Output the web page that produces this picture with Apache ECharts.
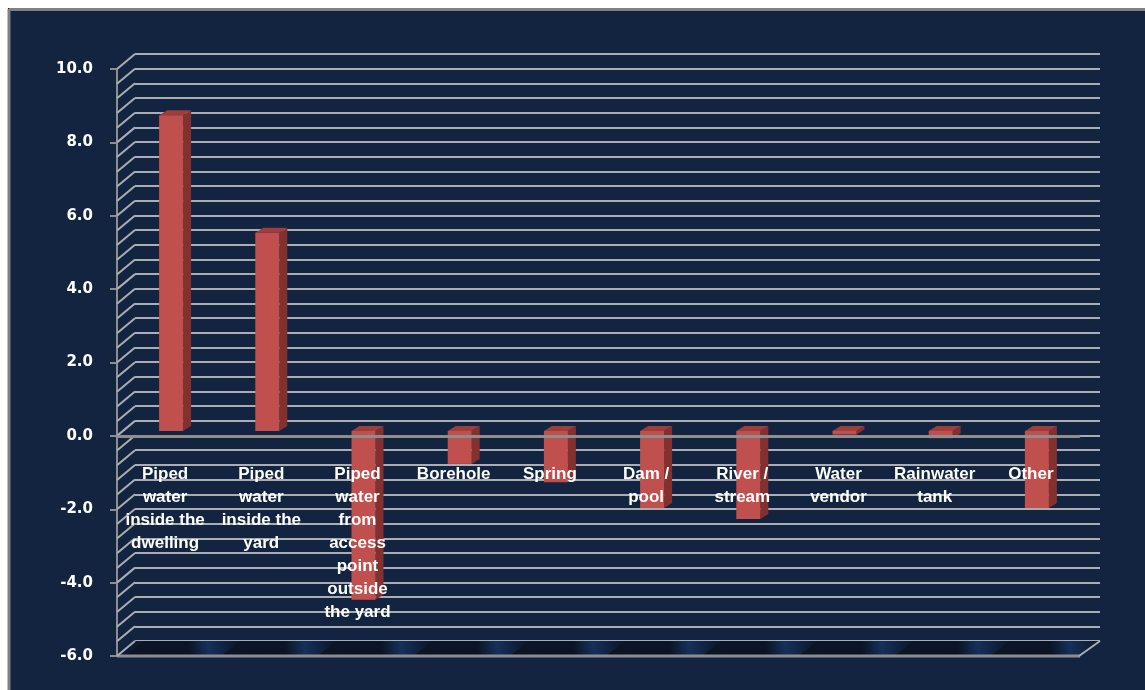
<!DOCTYPE html>
<html><head><meta charset="utf-8">
<script src="https://cdn.jsdelivr.net/npm/echarts@6/dist/echarts.min.js"></script>
<style>html,body{margin:0;padding:0;background:#fff}#c{width:1145px;height:690px}</style>
</head><body><div id="c"></div>
<script>
// ---- data ----
const categories = [
  'Piped\nwater\ninside the\ndwelling',
  'Piped\nwater\ninside the\nyard',
  'Piped\nwater\nfrom\naccess\npoint\noutside\nthe yard',
  'Borehole',
  'Spring',
  'Dam /\npool',
  'River /\nstream',
  'Water\nvendor',
  'Rainwater\ntank',
  'Other'
];
const values = [8.6, 5.4, -4.6, -0.9, -1.4, -2.1, -2.4, -0.1, -0.2, -2.1];
const yMin = -6;
const yMax = 10;
const yLabelStep = 2;
const gridStep = 0.4;

// ---- styles ----
const BG = '#12243f';
const GRID = '#aaaeb4';
const AXIS = '#8e8e8e';
const FRONT = '#c0504d';
const SIDE = '#83312f';
const TOP = '#9f3d3b';

const gridTicks = [];
for (let k = 0; k <= Math.round((yMax - yMin) / gridStep); k++) {
  gridTicks.push(+(yMin + k * gridStep).toFixed(2));
}

const chart = echarts.init(document.getElementById('c'), null, {renderer: 'canvas'});

const hiddenCat = (gi) => ({
  type: 'category', gridIndex: gi, data: categories, show: false
});
const hiddenVal = (gi) => ({
  type: 'value', gridIndex: gi, min: yMin, max: yMax, show: false
});
const G = {containLabel: false, outerBoundsMode: 'none'};

chart.setOption({
  backgroundColor: BG,
  animation: false,
  grid: [
    Object.assign({left: 117, right: 66, top: 69, bottom: 34}, G),     // front plane
    Object.assign({left: 135, right: 45, top: 54, bottom: 49}, G),     // back wall
    Object.assign({left: 123, right: 60, top: 64, bottom: 39}, G),     // bar plane
    Object.assign({left: 117, right: 66, top: 69, bottom: 254.3}, G)   // label band: bottom edge at value 0
  ],
  xAxis: [
    {
      type: 'category', gridIndex: 0, data: categories, z: 10,
      axisLine: {show: true, onZero: true, lineStyle: {color: AXIS, width: 3}},
      axisTick: {show: false},
      axisLabel: {show: false}
    },
    hiddenCat(1),
    hiddenCat(2),
    {
      type: 'category', gridIndex: 3, data: categories, z: 10, position: 'bottom',
      axisLine: {show: false}, axisTick: {show: false},
      axisLabel: {
        interval: 0, color: '#ffffff', fontWeight: 'bold', fontSize: 17,
        fontFamily: 'Liberation Sans', lineHeight: 23, margin: 27
      }
    }
  ],
  yAxis: [
    {
      type: 'value', gridIndex: 0, min: yMin, max: yMax, interval: yLabelStep,
      axisLine: {show: true, lineStyle: {color: AXIS, width: 2}},
      axisTick: {show: true, length: 7, lineStyle: {color: AXIS, width: 2}},
      axisLabel: {
        formatter: (v) => v.toFixed(1), color: '#ffffff', fontWeight: 'bold',
        fontSize: 15, fontFamily: 'DejaVu Sans', margin: 24, padding: [5, 0, 0, 0]
      },
      splitLine: {show: false}
    },
    {
      type: 'value', gridIndex: 1, min: yMin, max: yMax, interval: gridStep,
      axisLine: {show: false}, axisTick: {show: false}, axisLabel: {show: false},
      splitLine: {show: true, lineStyle: {color: GRID, width: 2}}
    },
    hiddenVal(2),
    {type: 'value', gridIndex: 3, min: 0, max: 1, show: false}
  ],
  series: [
    // floor
    {
      type: 'custom', xAxisIndex: 0, yAxisIndex: 0, z: 1, silent: true,
      data: [[0, yMin]],
      renderItem: (params, api) => {
        const cs = params.coordSys;
        const yF = api.coord([0, yMin])[1];
        const x0 = cs.x, x1 = cs.x + cs.width;
        const yB = yF - 15;
        const children = [{
          type: 'polygon',
          shape: {points: [[x0, yF], [x1, yF], [x1 + 21, yB], [x0 + 18, yB]]},
          style: {fill: '#0d1a2f'}
        }];
        const n = categories.length;
        const cw = cs.width / n;
        for (let i = 0; i < n; i++) {
          const a = x0 + i * cw + 8, b = a + cw;
          const bb = Math.min(b, x1);
          children.push({
            type: 'polygon',
            shape: {points: [[a, yF], [bb, yF], [Math.min(b + 19, x1 + 21), yB], [a + 19, yB]]},
            style: {fill: new echarts.graphic.LinearGradient(0, 1, 1, 0, [
              {offset: 0, color: '#0b1526'},
              {offset: 0.55, color: '#0a1424'},
              {offset: 0.72, color: '#16305a'},
              {offset: 0.85, color: '#102341'},
              {offset: 1, color: '#0b1526'}
            ])}
          });
        }
        children.push({type: 'line', shape: {x1: x0, y1: yF, x2: x1 + 1, y2: yF},
          style: {stroke: AXIS, lineWidth: 3}});
        children.push({type: 'line', shape: {x1: x1, y1: yF, x2: x1 + 21, y2: yB},
          style: {stroke: GRID, lineWidth: 2}});
        return {type: 'group', children};
      }
    },
    // left wall diagonals
    {
      type: 'custom', xAxisIndex: 0, yAxisIndex: 0, z: 1, silent: true,
      data: gridTicks.map((v) => [0, v]),
      renderItem: (params, api) => {
        const y = api.coord([0, api.value(1)])[1];
        const x0 = params.coordSys.x;
        return {type: 'line', shape: {x1: x0, y1: y, x2: x0 + 18, y2: y - 15},
          style: {stroke: GRID, lineWidth: 2}};
      }
    },
    // 3D bars
    {
      type: 'custom', xAxisIndex: 2, yAxisIndex: 2, z: 5,
      data: values.map((v, i) => [i, v]),
      renderItem: (params, api) => {
        const i = api.value(0), v = api.value(1);
        const p0 = api.coord([i, 0]);
        const p1 = api.coord([i, v]);
        const w = 24, dx = 8, dy = 5;
        const xl = p0[0] - w / 2, xr = p0[0] + w / 2;
        const yTop = Math.min(p0[1], p1[1]);
        const yBot = Math.max(p0[1], p1[1]);
        return {type: 'group', children: [
          {type: 'polygon', shape: {points: [[xr, yTop], [xr + dx, yTop - dy], [xr + dx, yBot - dy], [xr, yBot]]},
            style: {fill: SIDE}},
          {type: 'polygon', shape: {points: [[xl, yTop], [xl + dx, yTop - dy], [xr + dx, yTop - dy], [xr, yTop]]},
            style: {fill: TOP}},
          {type: 'rect', shape: {x: xl, y: yTop, width: w, height: yBot - yTop},
            style: {fill: FRONT}}
        ]};
      }
    }
  ],
  graphic: [
    {type: 'rect', z: 100, shape: {x: 0, y: 0, width: 1145, height: 8}, style: {fill: '#ffffff'}},
    {type: 'rect', z: 100, shape: {x: 0, y: 0, width: 8, height: 690}, style: {fill: '#ffffff'}},
    {type: 'line', z: 101, shape: {x1: 9, y1: 9.5, x2: 1145, y2: 9.5}, style: {stroke: '#808080', lineWidth: 3}},
    {type: 'line', z: 101, shape: {x1: 9, y1: 9, x2: 9, y2: 690}, style: {stroke: '#808080', lineWidth: 3}}
  ]
});
</script>
</body></html>
